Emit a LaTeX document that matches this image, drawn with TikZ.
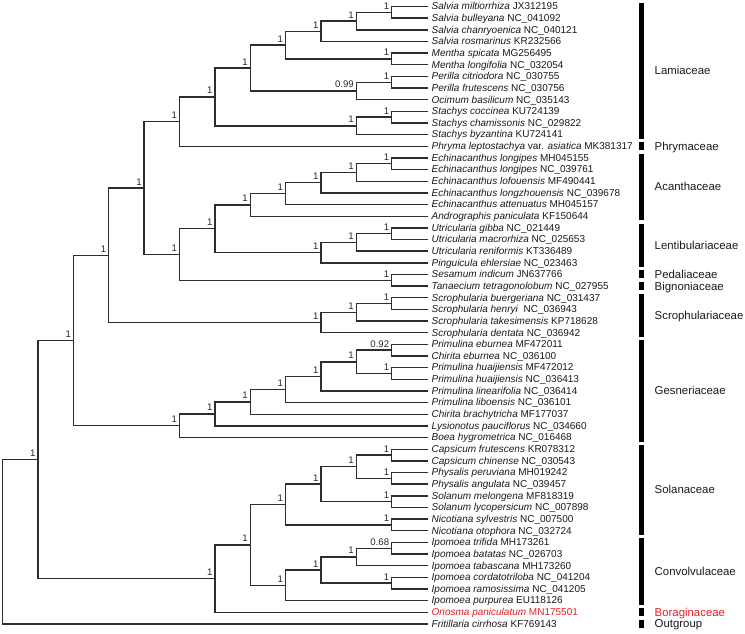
\documentclass[tikz,border=0pt]{standalone}
\usepackage{fontspec}
\setmainfont{Liberation Sans}
\usetikzlibrary{calc}
\definecolor{tline}{RGB}{45,45,45}
\definecolor{onred}{RGB}{228,30,38}
\newcommand\tn[5]{%
  \coordinate (mid#1) at ($(#3)!.5!(#4)$);
  \coordinate (#1) at (mid#1 -| X#2);
  \draw[br] (#3) -| (#1) |- (#4);
  \ifx\relax#5\relax\else\node[supp] (lab#1) at ($(#1)+(-2.3,-3)$) {#5};\fi
}
\newcommand\famgroup[4]{%
  \fill[black] ($(l#1)+(211,-4)$) rectangle ($(l#2)+(216,4)$);
  \coordinate (fc#1) at ($(l#1)!.5!(l#2)$);
  \node[famlab,text=#4] (fam#1) at ($(fc#1)+(226.5,3.9)$) {#3};
}
\begin{document}
\begin{tikzpicture}[x=1pt,y=-1pt,
  br/.style={draw=tline,line width=1.4pt},
  supp/.style={anchor=base east,inner sep=0pt,font=\fontsize{9.6}{10}\selectfont,text=black!85},
  leaf/.style={anchor=base west,inner sep=0pt,font=\fontsize{10}{12}\selectfont,text=black!90},
  famlab/.style={anchor=base west,inner sep=0pt,font=\fontsize{11.4}{13}\selectfont,text=black!90}]
\useasboundingbox (0,0) rectangle (745,633);
\foreach \k in {0,...,12} \coordinate (X\k) at ({2.7+35.36*\k},0);
\foreach \i/\t in {
 1/{\textit{Salvia miltiorrhiza} JX312195},
 2/{\textit{Salvia bulleyana} NC\_041092},
 3/{\textit{Salvia chanryoenica} NC\_040121},
 4/{\textit{Salvia rosmarinus} KR232566},
 5/{\textit{Mentha spicata} MG256495},
 6/{\textit{Mentha longifolia} NC\_032054},
 7/{\textit{Perilla citriodora} NC\_030755},
 8/{\textit{Perilla frutescens} NC\_030756},
 9/{\textit{Ocimum basilicum} NC\_035143},
 10/{\textit{Stachys coccinea} KU724139},
 11/{\textit{Stachys chamissonis} NC\_029822},
 12/{\textit{Stachys byzantina} KU724141},
 13/{\textit{Phryma leptostachya} var. \textit{asiatica} MK381317},
 14/{\textit{Echinacanthus longipes} MH045155},
 15/{\textit{Echinacanthus longipes} NC\_039761},
 16/{\textit{Echinacanthus lofouensis} MF490441},
 17/{\textit{Echinacanthus longzhouensis} NC\_039678},
 18/{\textit{Echinacanthus attenuatus} MH045157},
 19/{\textit{Andrographis paniculata} KF150644},
 20/{\textit{Utricularia gibba} NC\_021449},
 21/{\textit{Utricularia macrorhiza} NC\_025653},
 22/{\textit{Utricularia reniformis} KT336489},
 23/{\textit{Pinguicula ehlersiae} NC\_023463},
 24/{\textit{Sesamum indicum} JN637766},
 25/{\textit{Tanaecium tetragonolobum} NC\_027955},
 26/{\textit{Scrophularia buergeriana} NC\_031437},
 27/{\textit{Scrophularia henryi}\ \ NC\_036943},
 28/{\textit{Scrophularia takesimensis} KP718628},
 29/{\textit{Scrophularia dentata} NC\_036942},
 30/{\textit{Primulina eburnea} MF472011},
 31/{\textit{Chirita eburnea} NC\_036100},
 32/{\textit{Primulina huaijiensis} MF472012},
 33/{\textit{Primulina huaijiensis} NC\_036413},
 34/{\textit{Primulina linearifolia} NC\_036414},
 35/{\textit{Primulina liboensis} NC\_036101},
 36/{\textit{Chirita brachytricha} MF177037},
 37/{\textit{Lysionotus pauciflorus} NC\_034660},
 38/{\textit{Boea hygrometrica} NC\_016468},
 39/{\textit{Capsicum frutescens} KR078312},
 40/{\textit{Capsicum chinense} NC\_030543},
 41/{\textit{Physalis peruviana} MH019242},
 42/{\textit{Physalis angulata} NC\_039457},
 43/{\textit{Solanum melongena} MF818319},
 44/{\textit{Solanum lycopersicum} NC\_007898},
 45/{\textit{Nicotiana sylvestris} NC\_007500},
 46/{\textit{Nicotiana otophora} NC\_032724},
 47/{\textit{Ipomoea trifida} MH173261},
 48/{\textit{Ipomoea batatas} NC\_026703},
 49/{\textit{Ipomoea tabascana} MH173260},
 50/{\textit{Ipomoea cordatotriloba} NC\_041204},
 51/{\textit{Ipomoea ramosissima} NC\_041205},
 52/{\textit{Ipomoea purpurea} EU118126},
 53/{\color{onred}\textit{Onosma paniculatum} MN175501},
 54/{\textit{Fritillaria cirrhosa} KF769143}}{
  \coordinate (l\i) at (428,{6.5+(\i-1)*11.65});
  \node[leaf] (t\i) at ($(l\i)+(3.5,3.3)$) {\t};
}
% Lamiaceae
\tn{a1}{11}{l1}{l2}{1}
\tn{a2}{10}{a1}{l3}{1}
\tn{a3}{9}{a2}{l4}{1}
\tn{me1}{11}{l5}{l6}{1}
\tn{a4}{8}{a3}{me1}{1}
\tn{p1}{11}{l7}{l8}{1}
\tn{p2}{10}{p1}{l9}{0.99}
\tn{a5}{7}{a4}{p2}{1}
\tn{st1}{11}{l10}{l11}{1}
\tn{st2}{10}{st1}{l12}{1}
\tn{a6}{6}{a5}{st2}{1}
\tn{a7}{5}{a6}{l13}{1}
% Acanthaceae, Lentibulariaceae
\tn{e1}{11}{l14}{l15}{1}
\tn{e2}{10}{e1}{l16}{1}
\tn{e3}{9}{e2}{l17}{1}
\tn{e4}{8}{e3}{l18}{1}
\tn{e5}{7}{e4}{l19}{1}
\tn{u1}{11}{l20}{l21}{1}
\tn{u2}{10}{u1}{l22}{1}
\tn{u3}{9}{u2}{l23}{1}
\tn{e6}{6}{e5}{u3}{1}
\tn{b1}{11}{l24}{l25}{1}
\tn{e7}{5}{e6}{b1}{1}
\tn{n1}{4}{a7}{e7}{1}
% Scrophulariaceae
\tn{c1}{11}{l26}{l27}{1}
\tn{c2}{10}{c1}{l28}{1}
\tn{c3}{9}{c2}{l29}{1}
\tn{n2}{3}{n1}{c3}{1}
% Gesneriaceae
\tn{g1}{11}{l30}{l31}{0.92}
\tn{g2}{11}{l32}{l33}{1}
\tn{g3}{10}{g1}{g2}{1}
\tn{g4}{9}{g3}{l34}{1}
\tn{g5}{8}{g4}{l35}{1}
\tn{g6}{7}{g5}{l36}{1}
\tn{g7}{6}{g6}{l37}{1}
\tn{g8}{5}{g7}{l38}{1}
\tn{n3}{2}{n2}{g8}{1}
% Solanaceae, Convolvulaceae
\tn{sa}{11}{l39}{l40}{1}
\tn{sb}{11}{l41}{l42}{1}
\tn{s1}{10}{sa}{sb}{1}
\tn{sc}{11}{l43}{l44}{1}
\tn{s2}{9}{s1}{sc}{1}
\tn{sd}{11}{l45}{l46}{1}
\tn{s3}{8}{s2}{sd}{1}
\tn{i1}{11}{l47}{l48}{0.68}
\tn{i2}{10}{i1}{l49}{1}
\tn{i3}{11}{l50}{l51}{1}
\tn{i4}{9}{i2}{i3}{1}
\tn{i5}{8}{i4}{l52}{1}
\tn{s4}{7}{s3}{i5}{1}
\tn{s5}{6}{s4}{l53}{1}
\tn{n4}{1}{n3}{s5}{1}
\tn{root}{0}{n4}{l54}{}
% family bars
\famgroup{1}{12}{Lamiaceae}{black!90}
\famgroup{13}{13}{Phrymaceae}{black!90}
\famgroup{14}{19}{Acanthaceae}{black!90}
\famgroup{20}{23}{Lentibulariaceae}{black!90}
\famgroup{24}{24}{Pedaliaceae}{black!90}
\famgroup{25}{25}{Bignoniaceae}{black!90}
\famgroup{26}{29}{Scrophulariaceae}{black!90}
\famgroup{30}{38}{Gesneriaceae}{black!90}
\famgroup{39}{46}{Solanaceae}{black!90}
\famgroup{47}{52}{Convolvulaceae}{black!90}
\famgroup{53}{53}{Boraginaceae}{onred}
\famgroup{54}{54}{Outgroup}{black!90}
\end{tikzpicture}
\end{document}
